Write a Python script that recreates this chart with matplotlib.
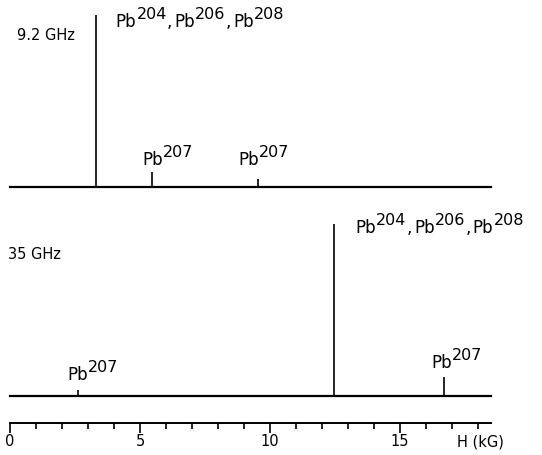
import numpy as np
import matplotlib
matplotlib.use("Agg")
import matplotlib.pyplot as plt
from matplotlib.transforms import offset_copy

# line positions (kG) and relative intensities
pos_92 = [3.3, 5.45, 9.55]
amp_92 = [1.0, 0.087, 0.047]
pos_35 = [12.45, 2.6, 16.7]
amp_35 = [1.0, 0.035, 0.11]

# label pieces: (text, superscript?)
even_lbl = [("Pb", 0), ("204", 1), (",", 0), ("Pb", 0), ("206", 1), (",", 0), ("Pb", 0), ("208", 1)]
odd_lbl = [("Pb", 0), ("207", 1)]

W, H = 542, 455
fig = plt.figure(figsize=(W / 100, H / 100), dpi=100)
fs = 12
fs_sup = 11.5
renderer = fig.canvas.get_renderer()

def px_rect(x0, ybase, w, h):
    return [x0 / W, (H - ybase) / H, w / W, h / H]

def label(ax, x, y, parts):
    # draw text piece by piece, superscripts raised, like the printed labels
    dx = 0.0
    for s, sup in parts:
        tr = offset_copy(ax.transData, fig=fig, x=dx, y=5.8 if sup else 0, units='points')
        t = ax.text(x, y, s, fontsize=fs_sup if sup else fs, va='baseline', transform=tr)
        bb = t.get_window_extent(renderer)
        gap = {"Pb": 0.4, ",": 1.2}.get(s, 0.2)
        dx += bb.width * 72 / fig.dpi + gap

def spectrum_axes(ybase):
    ax = fig.add_axes(px_rect(10, ybase, 481, 172))
    ax.set_xlim(0, 18.5)
    ax.set_ylim(0, 1)
    for s in ['top', 'right', 'left']:
        ax.spines[s].set_visible(False)
    ax.spines['bottom'].set_linewidth(1.6)
    ax.set_xticks([])
    ax.set_yticks([])
    ax.patch.set_alpha(0)
    return ax

# 9.2 GHz
ax1 = spectrum_axes(187)
ax1.vlines(pos_92, 0, amp_92, color='k', lw=1.2)
ax1.text(0.27, 0.855, "9.2 GHz", fontsize=10.5, va='baseline')
label(ax1, 4.05, 0.93, even_lbl)
label(ax1, 5.08, 0.128, odd_lbl)
label(ax1, 8.77, 0.128, odd_lbl)

# 35 GHz
ax2 = spectrum_axes(396)
ax2.vlines(pos_35, 0, amp_35, color='k', lw=1.2)
ax2.text(-0.08, 0.797, "35 GHz", fontsize=10.5, va='baseline')
label(ax2, 13.27, 0.948, even_lbl)
label(ax2, 2.19, 0.093, odd_lbl)
label(ax2, 16.19, 0.163, odd_lbl)

# field scale
ax3 = fig.add_axes(px_rect(10, 423, 481, 5))
ax3.set_xlim(0, 18.5)
for s in ['top', 'right', 'left']:
    ax3.spines[s].set_visible(False)
ax3.spines['bottom'].set_linewidth(1.4)
ax3.set_yticks([])
ax3.set_xticks([0, 5, 10, 15])
ax3.set_xticklabels(['0', '5', '10', '15'], fontsize=10.5)
ax3.set_xticks(np.arange(0, 19, 1), minor=True)
ax3.tick_params(axis='x', which='major', direction='out', length=7.5, width=1.2, pad=0.5)
ax3.tick_params(axis='x', which='minor', direction='out', length=4.5, width=1.2)
ax3.patch.set_alpha(0)
ax3.annotate("H (kG)", xy=(18.1, 0), xycoords=('data', 'axes fraction'),
             xytext=(0, -8), textcoords='offset points',
             fontsize=10.5, ha='center', va='top')

fig.savefig("out.png", dpi=100)
